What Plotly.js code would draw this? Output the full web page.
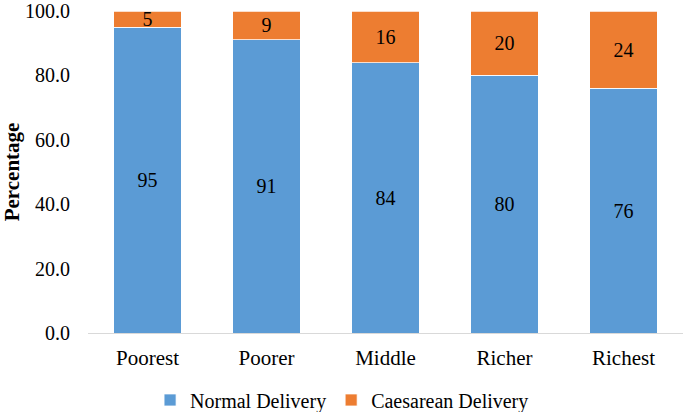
<!DOCTYPE html>
<html>
<head>
<meta charset="utf-8">
<script src="https://cdn.plot.ly/plotly-3.0.1.min.js"></script>
<style>
html,body{margin:0;padding:0;background:#fff;}
#chart{width:685px;height:412px;}
</style>
</head>
<body>
<div id="chart"></div>
<script>
var categories = ["Poorest", "Poorer", "Middle", "Richer", "Richest"];
var normalDelivery = [95, 91, 84, 80, 76];
var caesareanDelivery = [5, 9, 16, 20, 24];
var yTickValues = [0, 20, 40, 60, 80, 100];

var FONT = "Liberation Serif";

var traces = [
  {
    type: "bar", name: "Normal Delivery", x: categories, y: normalDelivery,
    text: normalDelivery.map(String), textposition: "inside", insidetextanchor: "middle",
    constraintext: "none", textangle: 0,
    textfont: {family: FONT, size: 20, color: "#000"},
    marker: {color: "#5B9BD5", line: {color: "#FFFFFF", width: 0.75}},
    hoverinfo: "none"
  },
  {
    type: "bar", name: "Caesarean Delivery", x: categories, y: caesareanDelivery,
    text: caesareanDelivery.map(String), textposition: "inside", insidetextanchor: "middle",
    constraintext: "none", textangle: 0,
    textfont: {family: FONT, size: 20, color: "#000"},
    marker: {color: "#ED7D31", line: {color: "#FFFFFF", width: 0.75}},
    hoverinfo: "none"
  }
];

var layout = {
  width: 685, height: 412,
  margin: {l: 88, r: 2, t: 11, b: 79, autoexpand: false},
  barmode: "stack", bargap: 0.43,
  paper_bgcolor: "#fff", plot_bgcolor: "#fff",
  font: {family: FONT, size: 20, color: "#000"},
  showlegend: true,
  legend: {orientation: "h", x: 0.427, xanchor: "center", y: -0.208, yanchor: "middle",
           font: {family: FONT, size: 20, color: "#000"}, traceorder: "normal"},
  xaxis: {type: "category", showline: true, linecolor: "#D9D9D9", linewidth: 1, automargin: false,
          showgrid: false, ticks: "", tickfont: {family: FONT, size: 21, color: "#000"},
          ticklabelstandoff: 6, fixedrange: true},
  yaxis: {range: [0, 100], tickvals: yTickValues, tickformat: ".1f", showline: false, automargin: false,
          showgrid: false, zeroline: false, ticks: "", tickfont: {family: FONT, size: 20, color: "#000"},
          ticklabelstandoff: 17,
          title: {text: "<b>Percentage</b>", font: {family: FONT, size: 21, color: "#000"}, standoff: 3},
          fixedrange: true}
};

Plotly.newPlot("chart", traces, layout, {displayModeBar: false, staticPlot: true});
</script>
</body>
</html>
